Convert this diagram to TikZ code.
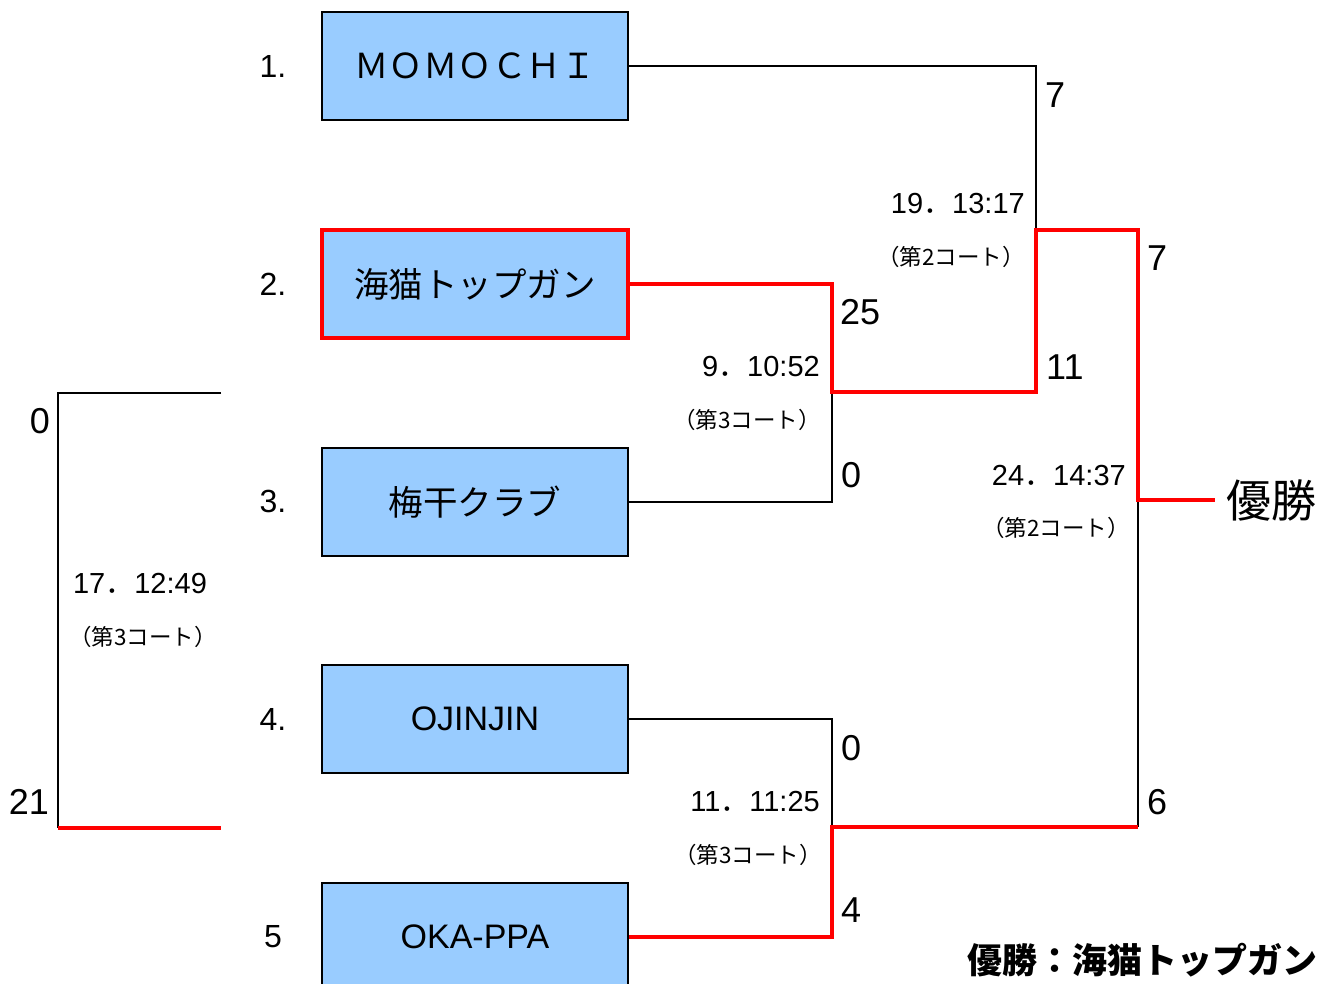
\documentclass[tikz,border=0pt]{standalone}
\usepackage{fontspec}
\setmainfont{Liberation Sans}
\newfontfamily\jp{Noto Sans CJK JP}
\definecolor{boxblue}{RGB}{153,204,255}
\definecolor{winred}{RGB}{255,0,0}
\newcommand{\fs}[1]{\fontsize{#1}{#1}\selectfont}
\begin{document}
\begin{tikzpicture}[x=1pt,y=-1pt,
  team/.style={draw=black,line width=2.8pt,fill=boxblue,minimum width=306pt,minimum height=108pt,inner sep=0pt,font=\jp\fs{34.5}},
  winteam/.style={team,draw=winred,line width=4pt},
  bl/.style={draw=black,line width=2.7pt},
  rd/.style={draw=winred,line width=4pt},
  score/.style={inner sep=0pt,font=\fs{36}},
  seed/.style={inner sep=0pt,font=\fs{32}},
  match/.style={inner sep=0pt,font=\fs{29}},
  court/.style={inner sep=0pt,font=\jp\fs{22.5}}]
\useasboundingbox (0,0) rectangle (1331,984);
% teams
\node[team] (b1) at (475,66) {ＭＯＭＯＣＨＩ};
\node[winteam] (b2) at (475,284) {海猫トップガン};
\node[team] (b3) at (475,502) {梅干クラブ};
\node[team,font=\fs{34}] (b4) at (475,719) {OJINJIN};
\node[team,font=\fs{34}] (b5) at (475,937) {OKA-PPA};
% seeds
\node[seed] (s1) at (273,66) {1.};
\node[seed] (s2) at (273,284) {2.};
\node[seed] (s3) at (273,501) {3.};
\node[seed] (s4) at (273,719) {4.};
\node[seed] (s5) at (273,937) {5};
% junctions
\coordinate (p9) at (832,392);
\coordinate (p11) at (832,827);
\coordinate (p19) at (1036,230);
\coordinate (p24) at (1138,500);
\coordinate (q24) at (1138,827);
\coordinate (fin) at (1215,500);
\coordinate (l1) at (221,393);
\coordinate (lc1) at (58,393);
\coordinate (lc2) at (58,828);
\coordinate (l2) at (221,828);
% connectors
\draw[bl] (b1.east) -| (p19);
\draw[bl] (b3.east) -| (p9);
\draw[bl] (b4.east) -| (p11);
\draw[bl] (q24) -- (p24);
\draw[bl] (l1) -- (lc1) -- (lc2);
\draw[rd] (b2.east) -| (p9) -| (p19) -| (p24) -- (fin);
\draw[rd] (b5.east) -| (p11) -- (q24);
\draw[rd] (lc2) -- (l2);
% scores
\node[score,anchor=west] (sc1) at (1045,95) {7};
\node[score,anchor=west] (sc2) at (1147,258) {7};
\node[score,anchor=west] (sc3) at (840,312) {25};
\node[score,anchor=west] (sc4) at (1046,367) {11};
\node[score,anchor=west] (sc5) at (841,475) {0};
\node[score,anchor=west] (sc6) at (841,748) {0};
\node[score,anchor=west] (sc7) at (1147,802) {6};
\node[score,anchor=west] (sc8) at (841,910) {4};
\node[score,anchor=east] (sc9) at (50,421) {0};
\node[score,anchor=east] (sc10) at (49,802) {21};
% match labels
\node[match,anchor=east] (m19) at (1025,204) {19{\jp ．}13:17};
\node[court] (c19) at (951,257) {（第2コート）};
\node[match,anchor=east] (m9) at (820,367) {9{\jp ．}10:52};
\node[court] (c9) at (747,420) {（第3コート）};
\node[match,anchor=east] (m24) at (1126,476) {24{\jp ．}14:37};
\node[court] (c24) at (1056,528) {（第2コート）};
\node[match,anchor=east] (m11) at (820,802) {11{\jp ．}11:25};
\node[court] (c11) at (748,855) {（第3コート）};
\node[match] (m17) at (140,584) {17{\jp ．}12:49};
\node[court] (c17) at (143,637) {（第3コート）};
% champion
\node[inner sep=0pt,anchor=west,font=\jp\fs{45}] (champ) at (1226,500) {優勝};
\node[inner sep=0pt,anchor=east,font=\jp\bfseries\fs{35}] (res) at (1318,960) {優勝：海猫トップガン};
\end{tikzpicture}
\end{document}
